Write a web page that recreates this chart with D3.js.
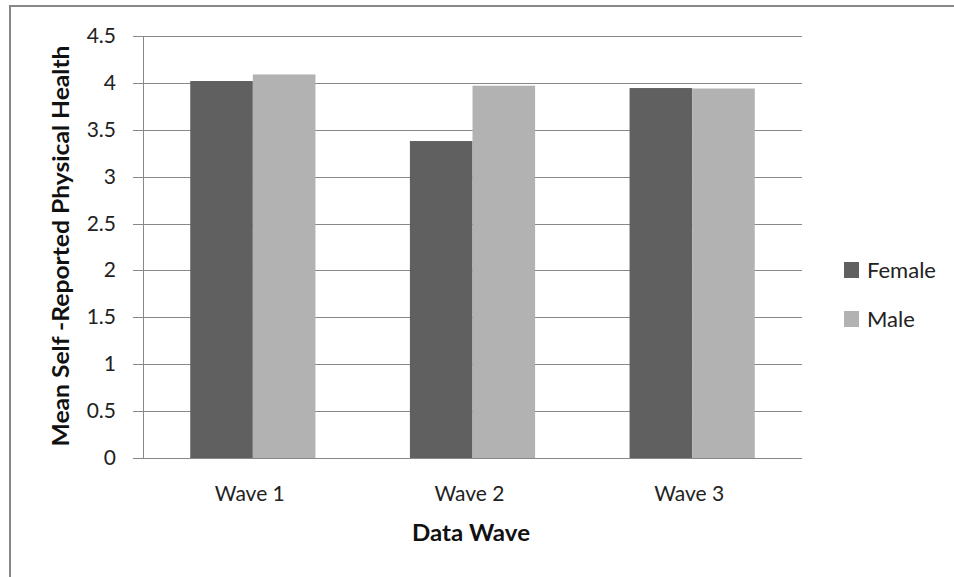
<!DOCTYPE html>
<html><head><meta charset="utf-8">
<script src="https://cdn.jsdelivr.net/npm/d3@7"></script>
<style>body{margin:0;background:#fff}svg{display:block}text{font-family:Lato,"Open Sans",sans-serif}</style>
</head><body>
<svg id="c" width="954" height="577"></svg>
<script>
const categories = ["Wave 1", "Wave 2", "Wave 3"];
const seriesNames = ["Female", "Male"];
const female = [4.02, 3.38, 3.945];
const male = [4.09, 3.97, 3.94];
const yTicks = [0, 0.5, 1, 1.5, 2, 2.5, 3, 3.5, 4, 4.5];
const colors = ["#606060", "#b2b2b2"];

const svg = d3.select("#c");
// outer frame (top and left)
svg.append("line").attr("x1",10).attr("x2",954).attr("y1",6).attr("y2",6).attr("stroke","#888").attr("stroke-width",2);
svg.append("line").attr("x1",10).attr("x2",10).attr("y1",5).attr("y2",577).attr("stroke","#888").attr("stroke-width",2);

const L=143, R=802, T=36, B=458;
const x = d3.scaleBand().domain(categories).range([L,R]).paddingInner(0.43).paddingOuter(0.215);
const xs = d3.scaleBand().domain(seriesNames).range([0,x.bandwidth()]);
const y = d3.scaleLinear().domain([0,4.5]).range([B,T]);

// gridlines
svg.append("g").selectAll("line").data(yTicks).join("line")
  .attr("x1",L-10).attr("x2",R).attr("y1",d=>Math.round(y(d))+0.5).attr("y2",d=>Math.round(y(d))+0.5)
  .attr("stroke","#888").attr("stroke-width",1);
// y axis line
svg.append("line").attr("x1",L+0.5).attr("x2",L+0.5).attr("y1",T).attr("y2",B).attr("stroke","#888");

// y labels
svg.append("g").selectAll("text").data(yTicks).join("text")
  .attr("x",116).attr("y",d=>y(d)+7).attr("text-anchor","end")
  .attr("font-size",21).attr("fill","#222").text(d=>d);

const data = categories.map((c,i)=>({c, vals:[female[i], male[i]]}));
const g = svg.append("g").selectAll("g").data(data).join("g").attr("transform",d=>`translate(${x(d.c)},0)`);
g.selectAll("rect").data(d=>d.vals.map((v,j)=>({v,s:seriesNames[j],j}))).join("rect")
  .attr("x",d=>xs(d.s)).attr("width",xs.bandwidth())
  .attr("y",d=>y(d.v)).attr("height",d=>B-y(d.v)).attr("fill",d=>colors[d.j]);

// x labels
svg.append("g").selectAll("text").data(categories).join("text")
  .attr("x",d=>x(d)+x.bandwidth()/2-3).attr("y",501).attr("text-anchor","middle")
  .attr("font-size",21).attr("fill","#222").text(d=>d);

svg.append("text").attr("x",471).attr("y",541).attr("text-anchor","middle")
  .attr("font-size",22).attr("font-weight","bold").attr("fill","#111")
  .attr("textLength",118).attr("lengthAdjust","spacingAndGlyphs").text("Data Wave");
svg.append("text").attr("transform","translate(69,246) rotate(-90)").attr("text-anchor","middle")
  .attr("font-size",22).attr("font-weight","bold").attr("fill","#111")
  .attr("textLength",401).attr("lengthAdjust","spacingAndGlyphs").text("Mean Self -Reported Physical Health");

// legend
const lg = svg.append("g").selectAll("g").data(seriesNames).join("g")
  .attr("transform",(d,i)=>`translate(844,${262+i*49})`);
lg.append("rect").attr("width",15).attr("height",16).attr("fill",(d,i)=>colors[i]);
lg.append("text").attr("x",23).attr("y",16).attr("font-size",22).attr("fill","#222").text(d=>d);
</script>
</body></html>
